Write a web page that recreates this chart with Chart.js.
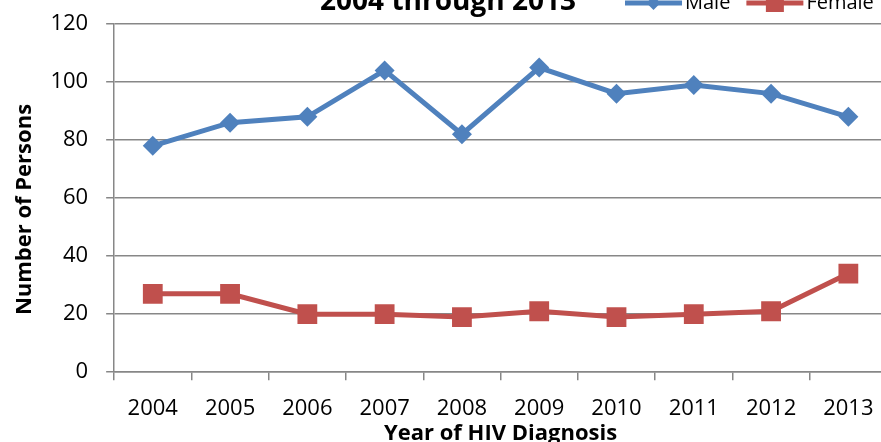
<!DOCTYPE html>
<html>
<head>
<meta charset="utf-8">
<script src="https://cdn.jsdelivr.net/npm/chart.js@4/dist/chart.umd.min.js"></script>
<style>
  html, body { margin: 0; padding: 0; background: #fff; }
  #wrap { position: relative; width: 881px; height: 442px; overflow: hidden; }
  #hivChart { position: absolute; left: 0; top: -20px; }
</style>
</head>
<body>
<div id="wrap">
  <canvas id="hivChart" width="901" height="467"></canvas>
</div>
<script>
// Data
const years = ['2004', '2005', '2006', '2007', '2008', '2009', '2010', '2011', '2012', '2013'];
const maleCounts = [78, 86, 88, 104, 82, 105, 96, 99, 96, 88];
const femaleCounts = [27, 27, 20, 20, 19, 21, 19, 20, 21, 34];
const yTicks = [0, 20, 40, 60, 80, 100, 120];
const titleLines = ['Number of Persons Diagnosed with HIV by Sex,', '2004 through 2013'];

const BLUE = '#4F81BD';
const RED = '#C0504D';
const GRID = '#878787';

Chart.defaults.font.family = '"Open Sans", "DejaVu Sans", sans-serif';
Chart.defaults.color = '#000';

// title + legend share one line at the top, so draw them by hand
const headerPlugin = {
  id: 'header',
  afterDraw(chart) {
    const ctx = chart.ctx;
    ctx.save();
    ctx.fillStyle = '#000';
    ctx.textAlign = 'center';
    ctx.textBaseline = 'alphabetic';
    ctx.font = 'bold 28px "Open Sans"';
    titleLines.forEach((t, i) => {
      ctx.fillText(t, 448, 30 - (titleLines.length - 1 - i) * 34);
    });

    // legend
    let x = 625;
    const y = 23;
    ctx.font = '20px "Open Sans"';
    ctx.textAlign = 'left';
    chart.data.datasets.forEach(ds => {
      ctx.strokeStyle = ds.borderColor;
      ctx.fillStyle = ds.borderColor;
      ctx.lineWidth = ds.borderWidth;
      ctx.beginPath();
      ctx.moveTo(x, y);
      ctx.lineTo(x + 57, y);
      ctx.stroke();
      const cx = x + 28.5;
      ctx.beginPath();
      if (ds.pointStyle === 'rectRot') {
        ctx.moveTo(cx, y - 7);
        ctx.lineTo(cx + 7, y);
        ctx.lineTo(cx, y + 7);
        ctx.lineTo(cx - 7, y);
      } else {
        ctx.rect(cx - 9, y - 9, 18, 18);
      }
      ctx.closePath();
      ctx.fill();
      ctx.fillStyle = '#000';
      ctx.fillText(ds.label, x + 60, y + 6);
      x += 60 + ctx.measureText(ds.label).width + 16;
    });
    ctx.restore();
  }
};

new Chart(document.getElementById('hivChart'), {
  type: 'line',
  data: {
    labels: years,
    datasets: [{
      label: 'Male',
      data: maleCounts,
      borderColor: BLUE,
      backgroundColor: BLUE,
      borderWidth: 5,
      pointStyle: 'rectRot',
      pointRadius: 10,
      pointHoverRadius: 10,
      pointBorderWidth: 0,
      tension: 0
    }, {
      label: 'Female',
      data: femaleCounts,
      borderColor: RED,
      backgroundColor: RED,
      borderWidth: 5,
      pointStyle: 'rect',
      pointRadius: 14,
      pointHoverRadius: 14,
      pointBorderWidth: 0,
      tension: 0
    }]
  },
  options: {
    responsive: false,
    animation: false,
    devicePixelRatio: 1,
    layout: {
      padding: { top: 44, left: 8, right: 9, bottom: 0 }
    },
    plugins: {
      legend: { display: false },
      title: { display: false },
      tooltip: { enabled: false }
    },
    scales: {
      x: {
        offset: true,
        grid: {
          offset: true,
          drawOnChartArea: false,
          tickLength: 8,
          color: GRID,
          lineWidth: 1.5
        },
        border: { color: GRID, width: 1.5 },
        ticks: { font: { size: 22 }, padding: 15, maxRotation: 0 },
        title: {
          display: true,
          text: 'Year of HIV Diagnosis',
          font: { size: 22, weight: 'bold' },
          padding: { top: -16, bottom: 0 }
        }
      },
      y: {
        min: 0,
        max: 120,
        afterBuildTicks(axis) {
          axis.ticks = yTicks.map(v => ({ value: v }));
        },
        grid: {
          tickLength: 8,
          color: GRID,
          lineWidth: 1.5
        },
        border: { color: GRID, width: 1.5 },
        ticks: { font: { size: 22 }, padding: 18 },
        title: {
          display: true,
          // trailing spaces push the visible text a little lower, as in the original
          text: 'Number of Persons    ',
          font: { size: 22, weight: 'bold' },
          padding: { top: 4, bottom: -6 }
        }
      }
    }
  },
  plugins: [headerPlugin]
});
</script>
</body>
</html>
